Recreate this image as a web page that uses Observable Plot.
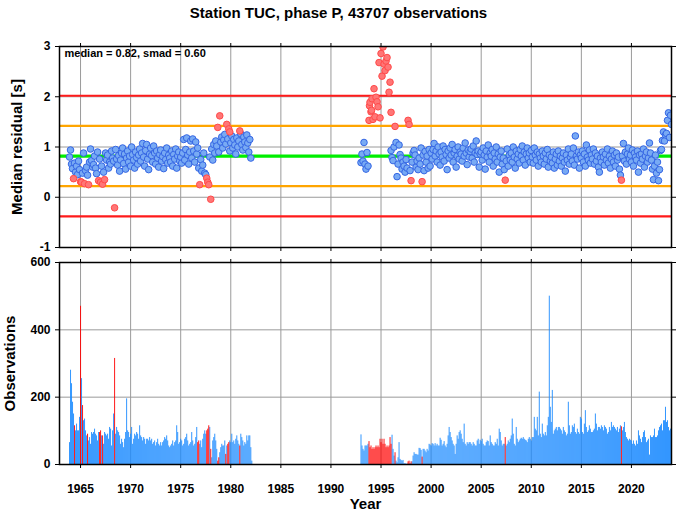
<!DOCTYPE html>
<html><head><meta charset="utf-8">
<script src="https://cdn.jsdelivr.net/npm/d3@7"></script>
<script src="https://cdn.jsdelivr.net/npm/@observablehq/plot@0.6"></script>
<style>
body{margin:0;background:#fff;}
#wrap{width:677px;height:511px;overflow:hidden;font-family:"Liberation Sans",Arial,sans-serif;}
#title{height:26px;line-height:25px;text-align:center;font-weight:bold;font-size:15px;color:#000;}
svg{display:block;}
svg [aria-label$="axis label"] text{font-size:15px;}
</style>
</head><body>
<div id="wrap"><div id="title">Station TUC, phase P, 43707 observations</div></div>
<script>
// ---------- DATA ----------
const median = 0.82, smad = 0.60;
const xTicks = [1965,1970,1975,1980,1985,1990,1995,2000,2005,2010,2015,2020];
const resTicks = [-1,0,1,2,3];
const obsTicks = [0,200,400,600];
const binStep = 0.1;

// Segment A: 1963.9 .. 1982.0 (median residual per bin, null = outlier bin / no value)
const startA = 1963.9;
const resA = [0.80,
 0.94,0.66,0.57,null,0.68,0.50,0.62,0.45,0.72,0.55,
 null,null,0.48,0.88,null,0.53,0.60,0.44,null,0.70,
 0.96,0.73,0.60,0.65,0.82,0.58,0.47,0.90,null,0.76,
 null,0.62,null,0.50,null,0.88,0.74,0.84,0.58,0.70,
 0.66,0.92,0.78,0.72,null,0.95,0.76,0.64,0.83,0.52,
 0.74,0.88,0.98,0.67,0.86,0.56,0.78,0.92,0.70,0.82,
 0.62,1.00,0.85,0.74,0.58,0.90,0.79,0.66,0.84,0.96,
 0.72,0.88,1.07,0.80,0.62,0.93,1.05,0.76,0.55,0.86,
 0.98,0.83,0.70,1.02,0.88,0.66,0.92,0.78,0.60,0.85,
 0.94,0.72,0.81,0.57,0.88,0.75,0.98,0.68,0.84,0.78,
 0.70,0.92,0.62,0.85,0.76,0.96,0.58,0.82,0.90,0.72,
 0.80,0.68,0.88,1.15,0.74,0.95,1.18,0.84,0.66,0.90,
 1.12,0.78,1.16,0.92,0.70,1.10,0.86,0.98,0.58,null,
 0.75,0.52,0.64,0.88,0.48,0.45,null,null,null,0.80,
 null,0.96,0.74,1.05,0.88,1.12,1.02,null,0.90,null,
 1.10,1.20,0.98,1.14,1.25,1.06,null,1.16,null,0.92,
 1.08,1.22,0.98,1.15,1.04,0.86,1.18,1.00,1.12,null,
 1.26,1.05,0.94,1.20,1.10,0.99,1.24,1.08,0.90,1.15,
 0.78];
const obsA = [65,280,240,185,150,115,100,120,100,100,140,470,255,175,130,135,100,85,90,70,
 80,60,95,90,95,105,90,85,70,95,95,100,85,85,60,95,90,85,90,75,
 110,105,55,100,150,315,90,110,100,95,85,60,75,65,50,75,95,195,100,95,
 80,90,110,60,75,90,85,95,90,75,115,85,80,70,80,75,60,75,75,70,
 80,70,75,60,65,70,55,65,75,60,55,65,55,65,70,80,75,85,70,55,
 50,55,60,70,55,65,70,115,95,60,65,75,70,55,60,75,80,90,70,55,
 60,65,95,70,55,60,80,110,65,70,60,70,50,75,90,100,90,100,105,115,
 110,45,20,70,80,90,70,45,10,20,35,50,60,55,55,70,30,55,60,65,
 70,65,90,65,70,60,75,85,70,60,55,90,80,70,55,65,60,85,70,85,
 85,50,10];

// Segment B: 1993.0 .. 2024.0
const startB = 1993.0;
const resB = [
 0.69,0.86,0.72,1.09,0.66,0.56,0.89,0.62,null,null,
 null,null,null,null,null,null,null,null,null,null,
 null,null,null,null,null,null,null,null,null,null,
 0.93,0.79,0.73,1.00,null,1.09,0.41,0.66,1.04,0.85,
 0.78,0.56,0.70,0.62,0.50,0.75,0.58,null,null,0.53,
 null,0.70,0.88,0.93,0.84,0.60,0.72,0.55,0.78,0.66,
 0.98,null,0.84,0.53,0.91,0.70,0.82,0.58,0.95,0.62,
 0.88,0.76,0.95,1.07,0.82,0.92,0.70,1.00,0.86,0.64,
 0.90,0.80,1.02,0.72,0.95,0.85,0.55,0.92,0.78,0.98,
 0.84,1.05,0.70,0.88,0.95,0.60,0.82,1.00,0.76,0.90,
 0.86,0.72,0.98,0.82,1.08,0.88,0.65,0.94,0.80,0.91,
 0.96,0.78,1.02,0.70,0.88,1.12,0.85,0.92,0.60,0.86,
 0.90,0.74,0.98,0.84,0.56,0.92,0.80,1.04,0.70,0.88,
 0.82,0.95,0.62,0.88,0.76,1.00,0.70,0.86,0.50,0.80,
 0.92,0.66,0.78,0.55,null,0.72,0.96,0.62,0.84,0.74,
 0.88,0.70,1.00,0.80,0.58,0.92,0.76,0.86,0.68,0.95,
 0.82,1.02,0.74,0.90,0.64,0.86,0.98,0.78,0.88,0.70,
 0.93,0.80,0.68,0.98,0.84,0.74,0.90,0.62,0.86,0.78,
 0.70,0.92,0.82,0.66,0.88,0.76,0.95,0.60,0.84,0.72,
 0.80,0.68,0.90,0.58,0.76,0.86,0.64,0.92,0.72,0.82,
 0.62,0.78,0.88,0.70,0.52,0.84,0.74,0.96,0.66,0.80,
 0.86,0.72,0.98,0.64,1.22,0.82,0.76,0.90,0.58,0.84,
 0.78,0.92,0.70,0.86,0.62,1.04,0.80,0.74,0.94,0.68,
 0.84,0.76,0.96,0.66,0.88,0.72,0.82,0.60,0.50,0.78,
 0.70,0.90,0.80,0.64,0.86,0.74,0.96,0.68,0.82,0.58,
 0.76,0.92,0.70,0.84,0.62,0.88,0.74,0.80,0.56,0.44,
 null,0.82,1.07,0.72,0.90,0.66,0.86,0.98,0.76,0.84,
 0.70,0.94,0.62,0.88,0.80,0.74,0.92,0.50,0.84,0.68,
 0.86,0.76,0.96,0.60,0.82,0.90,0.70,0.78,1.08,0.88,
 0.74,0.56,0.35,0.62,0.84,0.48,0.70,0.33,0.55,0.93,
 0.95,1.13,1.30,1.12,1.24,1.27,1.53,1.68,1.19,1.63,
 1.45];
const obsB = [88,55,45,40,55,55,55,60,68,50,55,45,50,45,50,55,50,55,50,75,
 65,75,60,75,60,50,55,50,55,80,60,87,45,25,35,10,5,20,65,15,
 12,10,12,2,3,0,2,8,10,3,8,8,25,35,30,30,28,28,48,47,
 42,22,45,45,40,35,45,40,60,58,55,62,60,55,62,55,60,55,55,78,
 72,55,60,68,55,50,60,85,110,95,80,70,60,55,30,60,85,75,95,100,
 90,75,65,120,60,55,65,60,65,65,60,55,65,60,55,55,70,75,60,72,
 68,75,60,55,55,65,70,68,55,85,65,60,55,55,65,60,75,55,105,95,
 70,55,60,60,80,55,60,70,65,75,85,135,90,60,55,110,75,65,70,75,
 78,75,80,75,72,70,65,75,80,75,70,80,80,140,105,100,140,85,215,90,
 80,120,90,85,95,85,115,140,500,170,125,220,90,100,105,110,100,110,110,105,
 100,90,110,100,95,85,90,185,115,90,95,115,110,120,95,90,105,95,90,140,
 135,95,90,120,160,110,95,100,115,105,95,95,100,105,150,120,100,110,110,105,
 115,110,100,115,110,105,90,95,110,100,125,110,115,110,105,100,110,95,105,115,
 112,100,110,125,95,80,75,70,75,72,70,60,70,60,55,70,60,100,85,75,
 65,80,95,100,80,65,70,75,28,85,80,80,85,105,80,80,85,100,110,115,
 120,100,130,130,170,125,130,110,100,105,100];

// Outlier bins (drawn red)
const outlierBinYears = [1964.4,1965.0,1965.2,1965.7,1966.9,1967.0,1967.2,1968.4,
 1976.7,1976.8,1977.6,1977.7,1977.8,1978.0,1978.7,1978.8,1979.5,1979.7,1979.8,1980.9,
 1993.8,1993.9,1994.0,1994.1,1994.2,1994.3,1994.4,1994.5,1994.6,1994.7,1994.8,1994.9,
 1995.0,1995.1,1995.2,1995.3,1995.4,1995.5,1995.6,1995.7,1995.8,1995.9,1996.0,
 1996.4,1997.7,1997.8,1998.0,1999.1,2007.4,2019.0];
// Outlier residuals (red points)
const outlierPtYears = [1964.3,1965.0,1965.1,1965.4,1965.8,1966.8,1967.0,1967.2,1967.4,1968.4,
 1976.9,1977.6,1977.7,1977.8,1978.0,1978.7,1978.9,1979.6,1979.8,1979.9,1980.9,
 1993.8,1993.85,1993.9,1994.0,1994.05,1994.1,1994.2,1994.3,1994.4,1994.5,1994.6,1994.7,1994.8,1994.9,
 1995.0,1995.1,1995.2,1995.3,1995.4,1995.5,1995.6,1995.7,1995.8,1995.9,1996.0,
 1996.4,1997.7,1997.8,1998.0,1999.1,2007.4,2019.0];
const outlierPtRes = [0.37,0.31,0.30,0.27,0.25,0.33,0.30,0.26,0.35,-0.21,
 0.25,0.38,0.30,0.25,-0.04,1.39,1.62,1.45,1.36,1.30,1.32,
 1.53,1.82,1.89,1.70,1.73,1.96,1.55,2.16,1.60,1.99,1.90,1.80,2.68,1.58,
 2.86,2.41,2.99,2.65,2.52,2.71,2.78,2.59,2.09,2.29,1.69,
 1.41,1.53,1.45,0.33,0.31,0.34,0.34];

// ---------- BUILD ----------
const key = y => Math.round(y * 10);
const outSet = new Set(outlierBinYears.map(key));
function series(start, arr) {
  return arr.map((v, i) => ({year: +(start + i * binStep).toFixed(2), v}));
}
const pts = [...series(startA, resA), ...series(startB, resB)].filter(d => d.v != null);
const redPts = outlierPtYears.map((y, i) => ({year: y, v: outlierPtRes[i]}));
const bins = [...series(startA, obsA), ...series(startB, obsB)]
  .map(d => ({x1: d.year, x2: d.year + binStep, n: d.v, out: outSet.has(key(d.year))}));
const levels = [
  {y: median - 2 * smad, c: "#ff1a1a", w: 2.2},
  {y: median + 2 * smad, c: "#ff1a1a", w: 2.2},
  {y: median - smad, c: "#ffa500", w: 2.2},
  {y: median + smad, c: "#ffa500", w: 2.2},
  {y: median, c: "#00ee00", w: 3.2}
];
const xDomain = [1962.9, 2024.0];
const font = {fontFamily: "'Liberation Sans', Arial, sans-serif", fontSize: "12px", fontWeight: "bold", color: "#000", background: "#fff"};
const blank = () => "";

const topPlot = Plot.plot({
  width: 677, height: 228, marginLeft: 59, marginRight: 6, marginTop: 20, marginBottom: 7,
  style: font,
  x: {domain: xDomain},
  y: {domain: [-1, 3]},
  marks: [
    Plot.gridX(xTicks, {stroke: "#9a9a9a", strokeOpacity: 1}),
    Plot.gridY(resTicks, {stroke: "#9a9a9a", strokeOpacity: 1}),
    ...levels.map(l => Plot.ruleY([l.y], {stroke: l.c, strokeWidth: l.w})),
    Plot.dot(pts, {x: "year", y: "v", r: 3.3, fill: "#78aaf4", stroke: "#3566e4", strokeWidth: 1, clip: true}),
    Plot.dot(redPts, {x: "year", y: "v", r: 3.3, fill: "#ff7676", stroke: "#ff4a4a", strokeWidth: 1, clip: true}),
    Plot.text(["median = " + median.toFixed(2) + ", smad = " + smad.toFixed(2)],
      {frameAnchor: "top-left", dx: 5, dy: 3, lineAnchor: "top", fontSize: 11, fontWeight: "bold", fill: "#000"}),
    Plot.frame({stroke: "#000", strokeWidth: 1.5}),
    Plot.axisX({anchor: "top", ticks: xTicks, tickSize: 4, tickFormat: blank, label: null}),
    Plot.axisX({anchor: "bottom", ticks: xTicks, tickSize: 4, tickFormat: blank, label: null}),
    Plot.axisY({anchor: "left", ticks: resTicks, tickSize: 4, tickPadding: 5, tickFormat: d => String(d),
      label: "Median residual [s]", labelAnchor: "center", labelOffset: 48, labelArrow: "none"}),
    Plot.axisY({anchor: "right", ticks: resTicks, tickSize: 4, tickFormat: blank, label: null})
  ]
});

const bottomPlot = Plot.plot({
  width: 677, height: 257, marginLeft: 59, marginRight: 6, marginTop: 8, marginBottom: 47,
  style: font,
  x: {domain: xDomain},
  y: {domain: [0, 600]},
  marks: [
    Plot.gridX(xTicks, {stroke: "#9a9a9a", strokeOpacity: 1}),
    Plot.gridY(obsTicks, {stroke: "#9a9a9a", strokeOpacity: 1}),
    Plot.rectY(bins.filter(d => !d.out), {x1: "x1", x2: "x2", y1: 0, y2: "n", fill: "#1e8cff", fillOpacity: 0.9}),
    Plot.rectY(bins.filter(d => d.out), {x1: "x1", x2: "x2", y1: 0, y2: "n", fill: "#ff0000", fillOpacity: 0.9}),
    Plot.frame({stroke: "#000", strokeWidth: 1.5}),
    Plot.axisX({anchor: "top", ticks: xTicks, tickSize: 4, tickFormat: blank, label: null}),
    Plot.axisX({anchor: "bottom", ticks: xTicks, tickSize: 4, tickPadding: 16, tickFormat: d => String(d),
      label: "Year", labelAnchor: "center", labelArrow: "none", labelOffset: 44}),
    Plot.axisY({anchor: "left", ticks: obsTicks, tickSize: 4, tickPadding: 5, tickFormat: d => String(d),
      label: "Observations", labelAnchor: "center", labelOffset: 55, labelArrow: "none"}),
    Plot.axisY({anchor: "right", ticks: obsTicks, tickSize: 4, tickFormat: blank, label: null})
  ]
});

const wrap = document.getElementById("wrap");
wrap.appendChild(topPlot);
wrap.appendChild(bottomPlot);
</script>
</body></html>
